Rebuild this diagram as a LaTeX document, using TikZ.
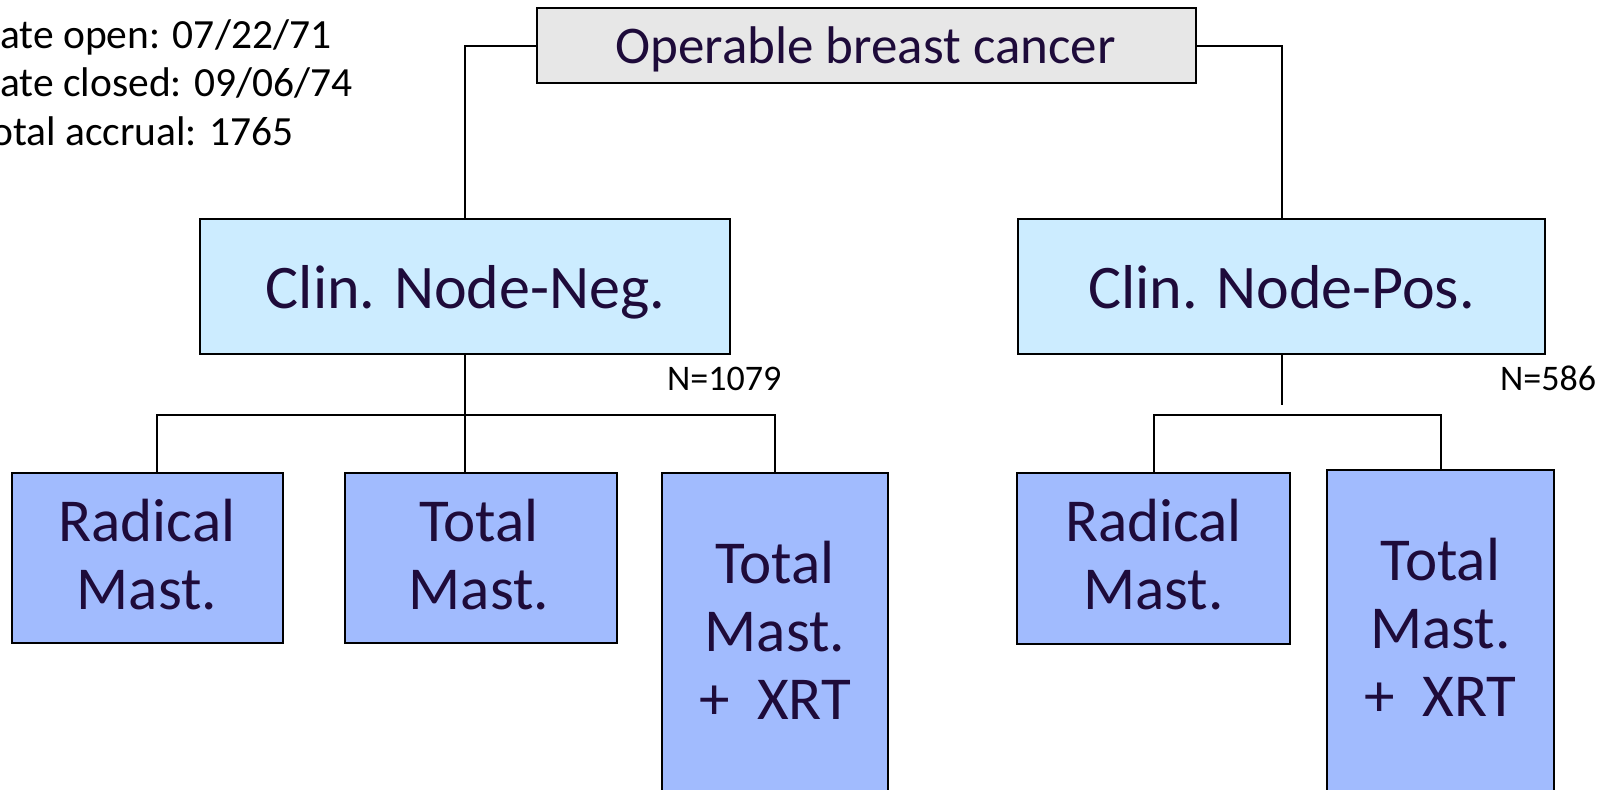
\documentclass[tikz,border=0pt]{standalone}
\usepackage{fontspec}
\setmainfont{Carlito}
\definecolor{ink}{HTML}{1E0B3A}
\definecolor{topfill}{HTML}{E7E7E7}
\definecolor{midfill}{HTML}{CCECFF}
\definecolor{lowfill}{HTML}{A1BBFE}
\tikzset{
  boxbase/.style={draw=black, line width=2.4pt, rectangle, inner sep=0pt},
  topbox/.style={boxbase, fill=topfill},
  midbox/.style={boxbase, fill=midfill},
  lowbox/.style={boxbase, fill=lowfill},
  bigtxt/.style={text=ink, inner sep=0pt, align=center, font=\fontsize{61}{68}\selectfont},
  midtxt/.style={text=ink, inner sep=0pt, font=\fontsize{62}{70}\selectfont},
  toptxt/.style={text=ink, inner sep=0pt, font=\fontsize{53}{60}\selectfont},
  infotxt/.style={text=black, inner sep=0pt, align=left, font=\fontsize{41.5}{48.5}\selectfont},
  ntxt/.style={text=black, inner sep=0pt, font=\fontsize{36}{42}\selectfont},
  link/.style={draw=black, line width=2pt}
}
\begin{document}
\begin{tikzpicture}[x=1pt,y=-1pt]
\useasboundingbox (0,0) rectangle (1610,790);
% boxes
\node[topbox, minimum width=659pt, minimum height=75pt] (top) at (866.5,45.5) {};
\node[midbox, minimum width=530pt, minimum height=135pt] (neg) at (465,286.5) {};
\node[midbox, minimum width=527pt, minimum height=135pt] (pos) at (1281.5,286.5) {};
\node[lowbox, minimum width=271pt, minimum height=170pt] (radL) at (147.5,558) {};
\node[lowbox, minimum width=272pt, minimum height=170pt] (totL) at (481,558) {};
\node[lowbox, minimum width=226pt, minimum height=340pt] (xrtL) at (775,643) {};
\node[lowbox, minimum width=273pt, minimum height=171pt] (radR) at (1153.5,558.5) {};
\node[lowbox, minimum width=227pt, minimum height=340pt] (xrtR) at (1440.5,640) {};
% texts
\node[toptxt, anchor=base] (topT) at (865.5,63.5) {Operable breast cancer};
\node[midtxt, anchor=base] (negT) at (465.5,308) {Clin. Node-Neg.};
\node[midtxt, anchor=base] (posT) at (1281.5,308) {Clin. Node-Pos.};
\node[bigtxt] (radLT) at (147,554.5) {Radical\\Mast.};
\node[bigtxt] (totLT) at (479,554.5) {Total\\Mast.};
\node[bigtxt] (xrtLT) at (775,630) {Total\\Mast.\\+\ \ XRT};
\node[bigtxt] (radRT) at (1153.5,554.5) {Radical\\Mast.};
\node[bigtxt] (xrtRT) at (1440.5,627.5) {Total\\Mast.\\+\ \ XRT};
\node[infotxt, anchor=base west] (info) at (-25.5,145) {Date open: 07/22/71\\Date closed: 09/06/74\\Total accrual: 1765};
\node[ntxt, anchor=base west] (nNeg) at (667,390) {N=1079};
\node[ntxt, anchor=base west] (nPos) at (1500,390) {N=586};
% connectors
\coordinate (hL) at (465,415);
\coordinate (hR) at (1300,415);
\coordinate (pEnd) at (1281.5,405);
\draw[link] (top.west) -| (neg.north);
\draw[link] (top.east) -| (pos.north);
\draw[link] (neg.south) -- (neg.south |- totL.north);
\draw[link] ([xshift=9.5pt]radL.north) |- (hL) -| (xrtL.north);
\draw[link] (pos.south) -- (pEnd);
\draw[link] (radR.north) |- (hR) -| (xrtR.north);
\end{tikzpicture}
\end{document}
